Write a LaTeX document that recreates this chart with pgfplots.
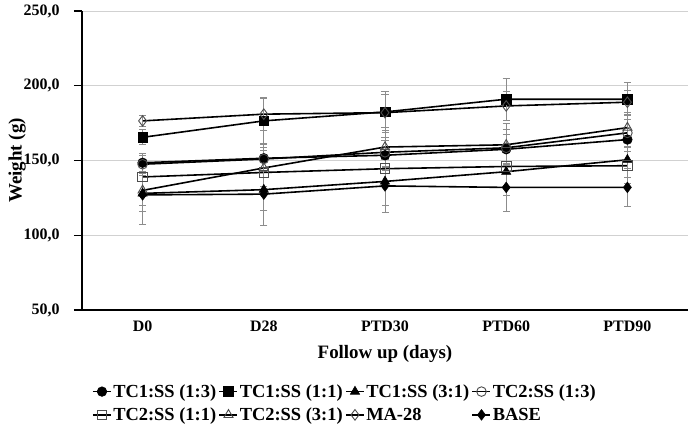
\documentclass[border=0pt]{standalone}
\usepackage{pgfplots}
\pgfplotsset{compat=1.18}
\usepackage{fontspec}
\setmainfont{Liberation Serif}
\begin{document}
\begin{tikzpicture}
\begin{axis}[
  name=ax,
  scale only axis,
  width=606bp, height=299bp,
  xmin=-0.5, xmax=4.5, ymin=50, ymax=250,
  xtick={0,1,2,3,4},
  xticklabels={D0,D28,PTD30,PTD60,PTD90},
  ytick={50,100,150,200,250},
  axis x line*=bottom, axis y line*=left,
  axis line style={black, line width=1.6pt},
  ymajorgrids, grid style={black!18, line width=0.8pt},
  x tick style={draw=none},
  y tick style={black, line width=1.2pt},
  tick align=outside, major tick length=8bp,
  /pgf/number format/assume math mode=true,
  /pgf/number format/fixed, /pgf/number format/fixed zerofill,
  /pgf/number format/precision=1, /pgf/number format/use comma,
  tick label style={font=\fontsize{16}{18}\selectfont\bfseries},
  yticklabel style={xshift=-11bp},
  xticklabel style={yshift=1bp},
  label style={font=\fontsize{19}{22}\selectfont\bfseries},
  xlabel={Follow up (days)},
  ylabel={Weight (g)},
  xlabel style={yshift=-7bp},
  ylabel style={yshift=-9bp},
  legend columns=4,
  legend cell align=left,
  legend style={draw=none, at={(0.0165,-0.245)}, anchor=north west,
    font=\fontsize{18.5}{21}\selectfont\bfseries,
    inner xsep=0pt, inner ysep=0pt, row sep=7bp,
    /tikz/every even column/.append style={column sep=1bp},
    nodes={inner xsep=1.5bp, inner ysep=1bp}},
  legend image code/.code={\draw[mark repeat=2,mark phase=2,#1] plot coordinates {(0bp,0bp) (9bp,0bp) (18bp,0bp)};},
  error bars/y dir=both, error bars/y explicit,
  error bars/error bar style={black!45, line width=0.8pt, solid},
  error bars/error mark options={black!45, line width=0.8pt, rotate=90, mark size=3.5bp},
]
% TC1:SS (1:3)
\addplot[black, solid, line width=1.6pt, mark=*, mark size=4.8bp, mark options={fill=black, draw=black, line width=0.6pt}] coordinates {
 (0,148.5) +- (0,6) (1,151.5) +- (0,9) (2,153.5) +- (0,10) (3,157.5) +- (0,10) (4,164) +- (0,8)};
\addlegendentry{TC1:SS (1:3)}
% TC1:SS (1:1)
\addplot[black, solid, line width=1.6pt, mark=square*, mark size=4.8bp, mark options={fill=black, draw=black, line width=0.6pt}] coordinates {
 (0,165.5) +- (0,5) (1,176.5) +- (0,15) (2,182.5) +- (0,14) (3,191) +- (0,14) (4,191) +- (0,11)};
\addlegendentry{TC1:SS (1:1)}
% TC1:SS (3:1)
\addplot[black, solid, line width=1.6pt, mark=triangle*, mark size=5.3bp, mark options={fill=black, draw=black, line width=0.6pt}] coordinates {
 (0,128) +- (0,12) (1,130.5) +- (0,14) (2,136) +- (0,16) (3,142.5) +- (0,16) (4,150.5) +- (0,12)};
\addlegendentry{TC1:SS (3:1)}
% TC2:SS (1:3)
\addplot[black, solid, line width=1.6pt, mark=o, mark size=4.8bp, mark options={fill=white, draw=black!70, line width=0.9pt}] coordinates {
 (0,147.5) +- (0,6) (1,151) +- (0,8) (2,155.5) +- (0,10) (3,158.5) +- (0,12) (4,168.5) +- (0,9)};
\addlegendentry{TC2:SS (1:3)}
% TC2:SS (1:1)
\addplot[black, solid, line width=1.6pt, mark=square, mark size=4.8bp, mark options={fill=white, draw=black!70, line width=0.9pt}] coordinates {
 (0,139) +- (0,10) (1,142) +- (0,12) (2,144.5) +- (0,10) (3,146) +- (0,14) (4,146.5) +- (0,12)};
\addlegendentry{TC2:SS (1:1)}
% TC2:SS (3:1)
\addplot[black, solid, line width=1.6pt, mark=triangle, mark size=5.3bp, mark options={fill=white, draw=black!70, line width=0.9pt}] coordinates {
 (0,130) +- (0,10) (1,145) +- (0,12) (2,159) +- (0,13) (3,160.5) +- (0,14) (4,172) +- (0,10)};
\addlegendentry{TC2:SS (3:1)}
% MA-28
\addplot[black, solid, line width=1.6pt, mark=diamond, mark size=5.3bp, mark options={fill=white, draw=black!70, line width=0.9pt}] coordinates {
 (0,176.5) +- (0,3.5) (1,181) +- (0,11) (2,182) +- (0,12) (3,186.5) +- (0,10) (4,189) +- (0,8)};
\addlegendentry{MA-28}
% BASE
\addplot[black, solid, line width=1.6pt, mark=diamond*, mark size=5.3bp, mark options={fill=black, draw=black, line width=0.6pt}] coordinates {
 (0,127) +- (0,20) (1,127.5) +- (0,21) (2,133) +- (0,18) (3,132) +- (0,16) (4,132) +- (0,13)};
\addlegendentry{BASE}
\end{axis}
\pgfresetboundingbox
\useasboundingbox ([xshift=-82bp,yshift=-121bp]ax.south west) rectangle ([yshift=11bp]ax.north east);
\end{tikzpicture}
\end{document}
